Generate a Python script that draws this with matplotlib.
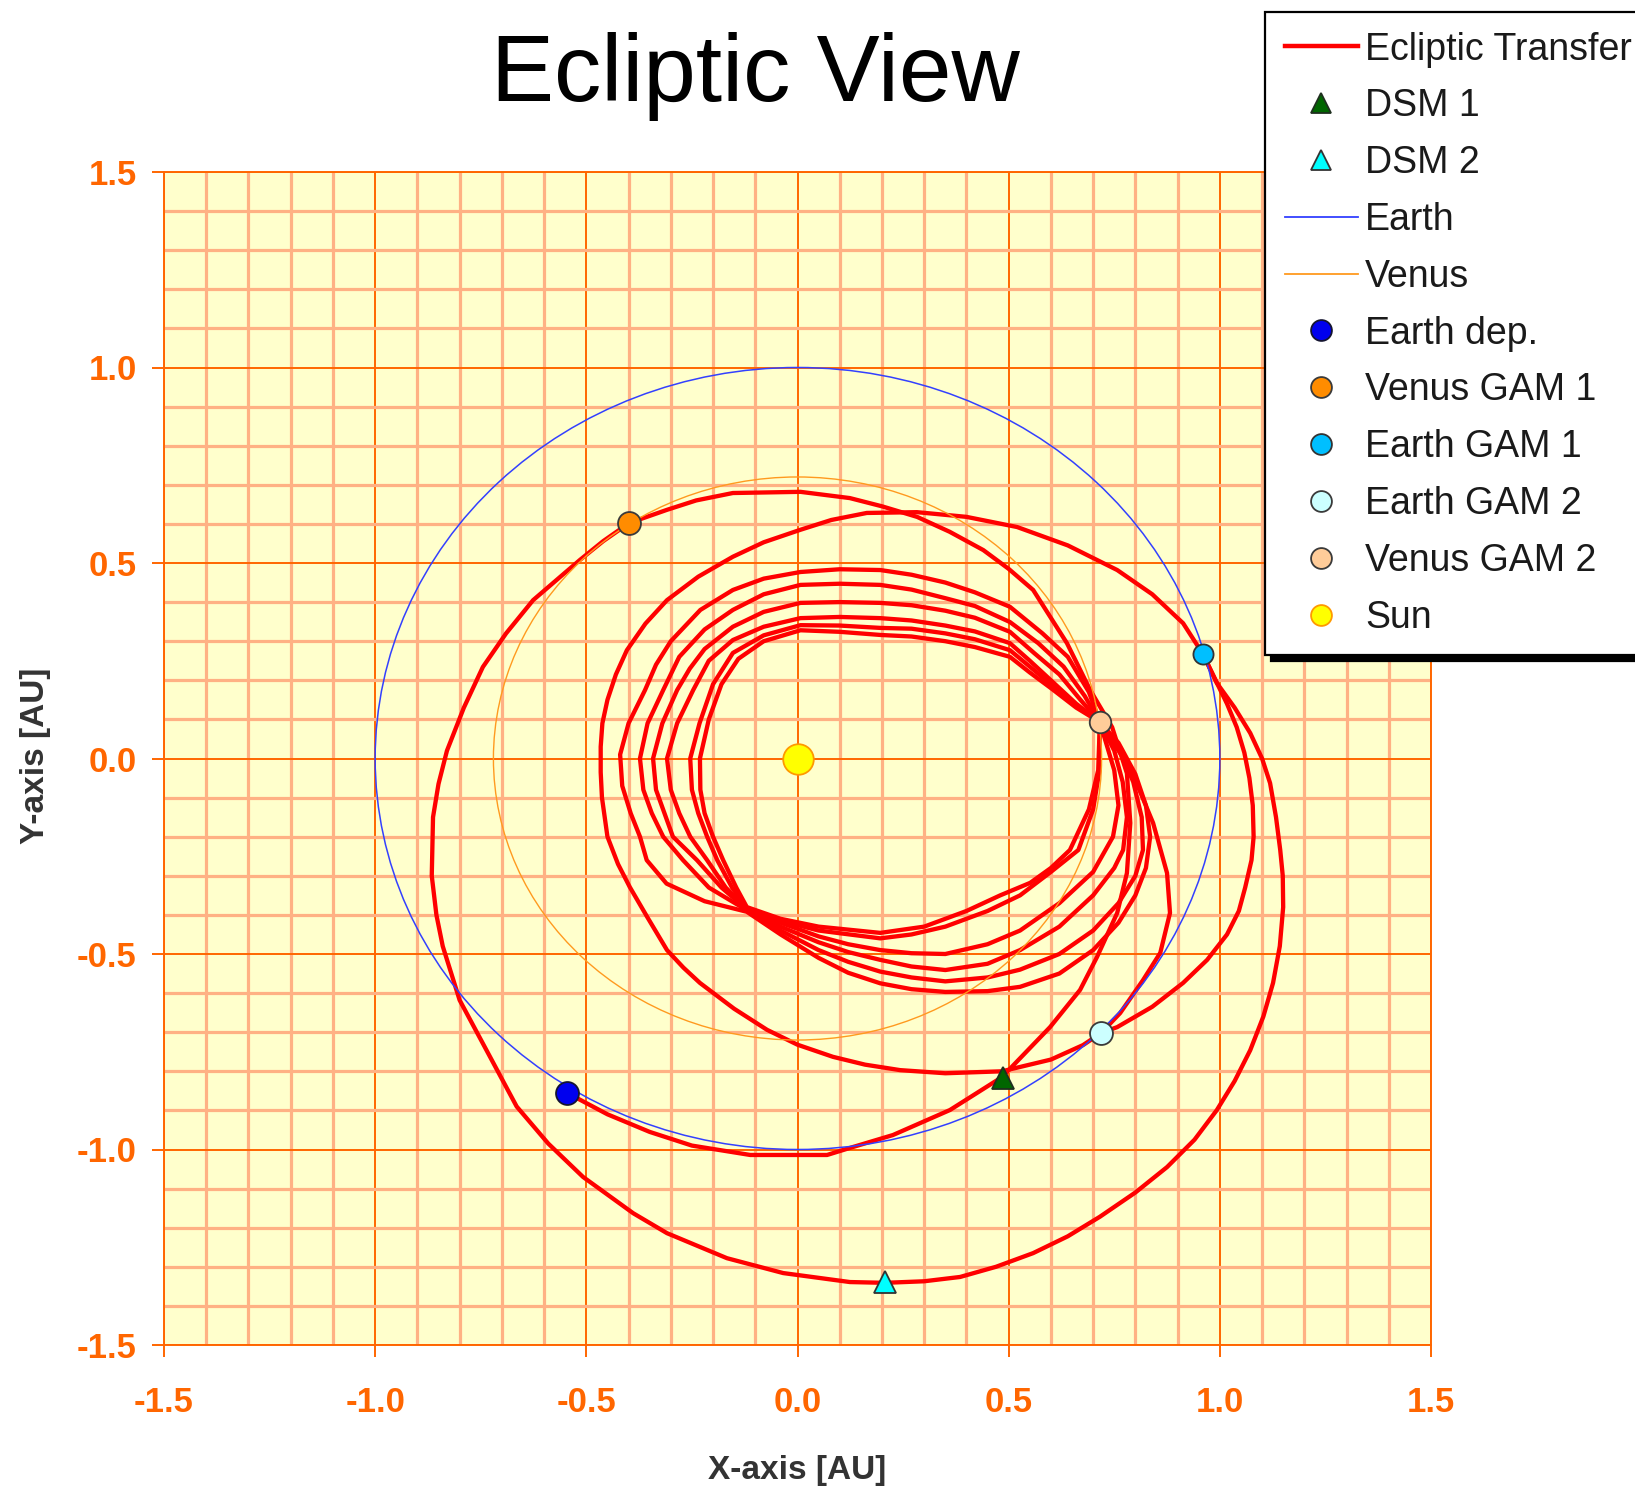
"""Ecliptic view of the transfer trajectory (Earth dep. -> Venus/Earth GAMs)."""
import matplotlib
matplotlib.use("Agg")
import matplotlib.pyplot as plt
import matplotlib.patches as patches
import matplotlib.ticker as ticker
from matplotlib.lines import Line2D

plt.rcParams["font.family"] = ["Liberation Sans", "DejaVu Sans"]
plt.rcParams["axes.unicode_minus"] = False

# Trajectory pieces, (x, y) in AU.
leg_dep_to_vgam1 = [
    (-0.546, -0.855), (-0.45, -0.91), (-0.35, -0.955), (-0.25, -0.99), (-0.112, -1.014),
    (0.07, -1.014), (0.124, -0.996), (0.226, -0.963), (0.361, -0.899), (0.484, -0.815),
    (0.598, -0.687), (0.669, -0.592), (0.709, -0.508), (0.757, -0.395), (0.78, -0.293),
    (0.788, -0.165), (0.78, -0.038), (0.745, 0.08), (0.693, 0.175), (0.638, 0.295),
    (0.558, 0.431), (0.50, 0.485), (0.44, 0.533), (0.36, 0.58), (0.283, 0.618),
    (0.20, 0.645), (0.124, 0.666), (0.007, 0.682), (-0.153, 0.679), (-0.24, 0.66),
    (-0.309, 0.636), (-0.399, 0.602),
]
leg_vgam1_to_egam1 = [
    (-0.399, 0.602), (-0.46, 0.556), (-0.515, 0.508), (-0.626, 0.405), (-0.69, 0.32),
    (-0.745, 0.234), (-0.79, 0.13), (-0.83, 0.02), (-0.85, -0.065), (-0.863, -0.15),
    (-0.866, -0.30), (-0.855, -0.40), (-0.84, -0.48), (-0.80, -0.618), (-0.728, -0.763),
    (-0.665, -0.89), (-0.59, -0.985), (-0.508, -1.07), (-0.389, -1.163), (-0.309, -1.214),
    (-0.167, -1.278), (-0.034, -1.316), (0.124, -1.339), (0.207, -1.341), (0.30, -1.337),
    (0.385, -1.326), (0.47, -1.30), (0.558, -1.265), (0.64, -1.222), (0.716, -1.172),
    (0.80, -1.11), (0.875, -1.045), (0.94, -0.975), (0.993, -0.899), (1.035, -0.825),
    (1.072, -0.746), (1.103, -0.66), (1.126, -0.574), (1.142, -0.48), (1.15, -0.38),
    (1.149, -0.30), (1.143, -0.234), (1.133, -0.15), (1.119, -0.063), (1.10, 0.0),
    (1.072, 0.065), (1.035, 0.13), (0.993, 0.193), (0.96, 0.267),
]
leg_egam1_to_egam2 = [
    (0.96, 0.267), (0.913, 0.346), (0.84, 0.42), (0.757, 0.482), (0.64, 0.545),
    (0.52, 0.592), (0.40, 0.618), (0.283, 0.63), (0.164, 0.628), (0.08, 0.61),
    (0.007, 0.585), (-0.08, 0.553), (-0.153, 0.516), (-0.235, 0.465), (-0.309, 0.405),
    (-0.36, 0.345), (-0.404, 0.277), (-0.43, 0.215), (-0.45, 0.15), (-0.462, 0.09),
    (-0.466, 0.03), (-0.466, -0.035), (-0.463, -0.1), (-0.45, -0.2), (-0.425, -0.27),
    (-0.397, -0.329), (-0.356, -0.405), (-0.309, -0.49), (-0.27, -0.535), (-0.231, -0.574),
    (-0.15, -0.64), (-0.072, -0.694), (0.0, -0.732), (0.084, -0.763), (0.16, -0.783),
    (0.243, -0.797), (0.35, -0.805), (0.484, -0.80), (0.6, -0.77), (0.676, -0.733),
    (0.719, -0.702),
]
leg_egam2_outer = [
    (0.719, -0.702), (0.757, -0.687), (0.84, -0.635), (0.913, -0.574), (0.97, -0.515),
    (1.017, -0.45), (1.045, -0.39), (1.06, -0.33), (1.075, -0.26), (1.08, -0.2),
    (1.078, -0.12), (1.07, -0.05), (1.058, 0.015), (1.04, 0.08), (1.017, 0.14),
    (0.99, 0.2), (0.96, 0.267),
]
leg_egam2_to_vgam2 = [
    (0.719, -0.702), (0.764, -0.651), (0.818, -0.567), (0.859, -0.497), (0.882, -0.395),
    (0.875, -0.293), (0.842, -0.165), (0.79, -0.03), (0.716, 0.093),
]

# Venus resonant loops after Venus GAM 2, outer to inner.
loop_a = [
    (0.716, 0.093), (0.69, 0.17), (0.64, 0.26), (0.58, 0.32), (0.503, 0.388), (0.42, 0.425),
    (0.35, 0.45), (0.27, 0.47), (0.196, 0.482), (0.10, 0.484), (0.007, 0.477), (-0.08, 0.46),
    (-0.153, 0.431), (-0.23, 0.38), (-0.30, 0.30), (-0.335, 0.24), (-0.361, 0.175),
    (-0.40, 0.09), (-0.42, 0.01), (-0.415, -0.07), (-0.395, -0.14), (-0.373, -0.2),
    (-0.357, -0.26), (-0.31, -0.32), (-0.22, -0.365), (-0.12, -0.392), (-0.04, -0.45),
    (0.05, -0.51), (0.12, -0.548), (0.196, -0.575), (0.27, -0.59), (0.35, -0.597),
    (0.45, -0.595), (0.527, -0.584), (0.62, -0.55), (0.70, -0.49), (0.76, -0.42),
    (0.80, -0.35), (0.825, -0.28), (0.835, -0.2), (0.825, -0.12), (0.80, -0.04),
    (0.76, 0.04), (0.716, 0.093),
]
loop_b = [
    (0.716, 0.093), (0.68, 0.16), (0.63, 0.235), (0.57, 0.295), (0.503, 0.349), (0.42, 0.39),
    (0.35, 0.41), (0.27, 0.432), (0.196, 0.444), (0.10, 0.447), (0.007, 0.444), (-0.08, 0.42),
    (-0.153, 0.38), (-0.22, 0.33), (-0.28, 0.26), (-0.318, 0.175), (-0.355, 0.09),
    (-0.373, 0.0), (-0.365, -0.08), (-0.345, -0.14), (-0.318, -0.2), (-0.271, -0.26),
    (-0.21, -0.33), (-0.12, -0.388), (-0.04, -0.44), (0.05, -0.49), (0.12, -0.52),
    (0.196, -0.545), (0.27, -0.56), (0.35, -0.57), (0.45, -0.56), (0.527, -0.54),
    (0.62, -0.5), (0.70, -0.44), (0.76, -0.37), (0.80, -0.3), (0.818, -0.234),
    (0.815, -0.15), (0.795, -0.06), (0.76, 0.03), (0.716, 0.093),
]
loop_c = [
    (0.716, 0.093), (0.67, 0.15), (0.62, 0.215), (0.56, 0.27), (0.503, 0.324), (0.42, 0.36),
    (0.35, 0.378), (0.27, 0.392), (0.196, 0.398), (0.10, 0.40), (0.007, 0.398), (-0.08, 0.375),
    (-0.153, 0.337), (-0.22, 0.28), (-0.255, 0.23), (-0.285, 0.175), (-0.32, 0.09),
    (-0.342, 0.0), (-0.335, -0.08), (-0.315, -0.14), (-0.295, -0.2), (-0.238, -0.26),
    (-0.18, -0.33), (-0.12, -0.386), (-0.04, -0.43), (0.05, -0.47), (0.12, -0.495),
    (0.196, -0.515), (0.27, -0.532), (0.35, -0.541), (0.45, -0.525), (0.527, -0.49),
    (0.62, -0.43), (0.70, -0.35), (0.75, -0.28), (0.771, -0.234), (0.78, -0.15),
    (0.77, -0.06), (0.75, 0.02), (0.716, 0.093),
]
loop_d = [
    (0.716, 0.093), (0.66, 0.14), (0.60, 0.20), (0.55, 0.25), (0.503, 0.295), (0.42, 0.325),
    (0.35, 0.34), (0.27, 0.353), (0.196, 0.359), (0.10, 0.362), (0.007, 0.359), (-0.08, 0.337),
    (-0.153, 0.303), (-0.21, 0.25), (-0.247, 0.175), (-0.285, 0.09), (-0.309, 0.0),
    (-0.30, -0.08), (-0.28, -0.14), (-0.254, -0.2), (-0.214, -0.26), (-0.17, -0.33),
    (-0.12, -0.384), (-0.04, -0.42), (0.05, -0.455), (0.12, -0.475), (0.196, -0.49),
    (0.27, -0.498), (0.35, -0.50), (0.45, -0.475), (0.527, -0.44), (0.62, -0.37),
    (0.70, -0.29), (0.747, -0.2), (0.76, -0.12), (0.75, -0.03), (0.716, 0.093),
]
loop_e = [
    (0.716, 0.093), (0.66, 0.135), (0.60, 0.19), (0.55, 0.235), (0.503, 0.277), (0.42, 0.305),
    (0.35, 0.32), (0.27, 0.332), (0.196, 0.334), (0.10, 0.34), (0.007, 0.341), (-0.08, 0.315),
    (-0.153, 0.27), (-0.20, 0.19), (-0.232, 0.09), (-0.254, 0.0), (-0.25, -0.08),
    (-0.235, -0.14), (-0.214, -0.2), (-0.19, -0.26), (-0.155, -0.33), (-0.12, -0.382),
    (-0.04, -0.415), (0.05, -0.44), (0.196, -0.46), (0.27, -0.45), (0.35, -0.43),
    (0.45, -0.39), (0.527, -0.35), (0.60, -0.29), (0.665, -0.234), (0.70, -0.13),
    (0.715, -0.03), (0.716, 0.093),
]
loop_f = [
    (0.716, 0.093), (0.66, 0.13), (0.60, 0.18), (0.55, 0.22), (0.503, 0.26), (0.42, 0.285),
    (0.35, 0.30), (0.27, 0.312), (0.196, 0.316), (0.10, 0.324), (0.007, 0.328), (-0.08, 0.30),
    (-0.14, 0.255), (-0.18, 0.19), (-0.21, 0.10), (-0.231, 0.0), (-0.23, -0.08),
    (-0.22, -0.14), (-0.20, -0.2), (-0.176, -0.26), (-0.145, -0.33), (-0.12, -0.38),
    (-0.04, -0.41), (0.05, -0.43), (0.196, -0.446), (0.30, -0.43), (0.40, -0.39),
    (0.48, -0.35), (0.551, -0.318), (0.60, -0.28), (0.645, -0.234), (0.69, -0.13),
    (0.712, -0.03), (0.716, 0.093),
]

trajectory = [leg_dep_to_vgam1, leg_vgam1_to_egam1, leg_egam1_to_egam2, leg_egam2_outer,
              leg_egam2_to_vgam2, loop_a, loop_b, loop_c, loop_d, loop_e, loop_f]

# Planet orbits (circles, radius in AU).
earth_orbit_radius = 1.0
venus_orbit_radius = 0.72

# Events (label, x, y).
event_labels = ["DSM 1", "DSM 2", "Earth dep.", "Venus GAM 1", "Earth GAM 1",
                "Earth GAM 2", "Venus GAM 2", "Sun"]
event_x = [0.487, 0.207, -0.546, -0.399, 0.960, 0.719, 0.716, 0.0]
event_y = [-0.817, -1.339, -0.855, 0.602, 0.267, -0.702, 0.093, 0.0]

# Marker styles per event.
event_style = {
    "DSM 1": dict(marker="^", ms=16, mfc="#006600", mec="#1f2f1f"),
    "DSM 2": dict(marker="^", ms=16, mfc="#00FFFF", mec="#333333"),
    "Earth dep.": dict(marker="o", ms=16.5, mfc="#0000EE", mec="#151530"),
    "Venus GAM 1": dict(marker="o", ms=16.5, mfc="#FF8C00", mec="#3a3a3a"),
    "Earth GAM 1": dict(marker="o", ms=14.5, mfc="#00BFFF", mec="#333333"),
    "Earth GAM 2": dict(marker="o", ms=16.5, mfc="#CCFFFF", mec="#3a3a3a"),
    "Venus GAM 2": dict(marker="o", ms=15.5, mfc="#FFCC99", mec="#3a3a3a"),
    "Sun": dict(marker="o", ms=22, mfc="#FFFF00", mec="#FF9900"),
}

ORANGE = "#FF6600"
RED = "#FF0000"
EARTH_BLUE = "#3340FF"
VENUS_ORANGE = "#FF9A1F"

fig = plt.figure(figsize=(16.35, 14.92), dpi=100)
ax = fig.add_axes([164 / 1635, 1 - 1345 / 1492, 1267 / 1635, 1173 / 1492])
ax.set_facecolor("#FFFFCC")
ax.set_xlim(-1.5, 1.5)
ax.set_ylim(-1.5, 1.5)

# Grid: dark orange every 0.5, light salmon every 0.1.
for axis in (ax.xaxis, ax.yaxis):
    axis.set_major_locator(ticker.MultipleLocator(0.5))
    axis.set_minor_locator(ticker.MultipleLocator(0.1))
    axis.set_major_formatter(ticker.FormatStrFormatter("%.1f"))
ax.grid(which="minor", color="#FFB184", linewidth=2.3)
ax.grid(which="major", color=ORANGE, linewidth=1.4)
ax.set_axisbelow(True)

ax.tick_params(which="major", direction="out", length=8.6, width=1.4, color=ORANGE,
               labelsize=25, labelcolor=ORANGE)
ax.tick_params(which="minor", length=0)
ax.tick_params(axis="x", pad=21)
ax.tick_params(axis="y", pad=11)
for lbl in ax.get_xticklabels() + ax.get_yticklabels():
    lbl.set_fontweight("bold")
for spine in ax.spines.values():
    spine.set_color(ORANGE)
    spine.set_linewidth(1.4)

# Trajectory first, orbits drawn on top of it as in the original.
for piece in trajectory:
    xs, ys = zip(*piece)
    ax.plot(xs, ys, color=RED, linewidth=3.1, solid_joinstyle="round", zorder=2)

ax.add_patch(patches.Circle((0, 0), earth_orbit_radius, fill=False, edgecolor=EARTH_BLUE,
                            linewidth=1.1, zorder=3))
ax.add_patch(patches.Circle((0, 0), venus_orbit_radius, fill=False, edgecolor=VENUS_ORANGE,
                            linewidth=1.0, zorder=3))

for label, x, y in zip(event_labels, event_x, event_y):
    ax.plot([x], [y], linestyle="none", mew=1.3, zorder=5, **event_style[label])

ax.set_xlabel("X-axis [AU]", fontsize=24, fontweight="bold", color="#333333", va="center")
ax.xaxis.set_label_coords(0.5, (1345 - 1470) / 1173)
ax.set_ylabel("Y-axis [AU]", fontsize=24, fontweight="bold", color="#333333", va="center")
ax.yaxis.set_label_coords((36 - 164) / 1267, 0.502)

fig.text(755 / 1635, 1 - 101 / 1492, "Ecliptic View", fontsize=68, ha="center", va="baseline")

# Legend, pinned to the top right corner of the figure.
legend_order = ["Ecliptic Transfer", "DSM 1", "DSM 2", "Earth", "Venus", "Earth dep.",
                "Venus GAM 1", "Earth GAM 1", "Earth GAM 2", "Venus GAM 2", "Sun"]
handles = []
for name in legend_order:
    if name == "Ecliptic Transfer":
        handles.append(Line2D([], [], color=RED, linewidth=3.2))
    elif name == "Earth":
        handles.append(Line2D([], [], color=EARTH_BLUE, linewidth=1.3))
    elif name == "Venus":
        handles.append(Line2D([], [], color=VENUS_ORANGE, linewidth=1.3))
    else:
        style = dict(event_style[name])
        style["ms"] = 15
        handles.append(Line2D([], [], linestyle="none", mew=1.3, **style))

leg = fig.legend(handles, legend_order, loc="upper left",
                 bbox_to_anchor=(1265 / 1635, 1 - 12 / 1492), borderaxespad=0,
                 fontsize=27, handlelength=1.95, handletextpad=0.2, labelspacing=0.555,
                 borderpad=0.52, fancybox=False, framealpha=1, edgecolor="black",
                 shadow={"ox": 4.5, "oy": -4.5, "color": "black", "alpha": 1})
leg.get_frame().set_linewidth(1.6)
for text in leg.get_texts():
    text.set_color("#1a1a1a")

fig.savefig("out.png", dpi=100)
